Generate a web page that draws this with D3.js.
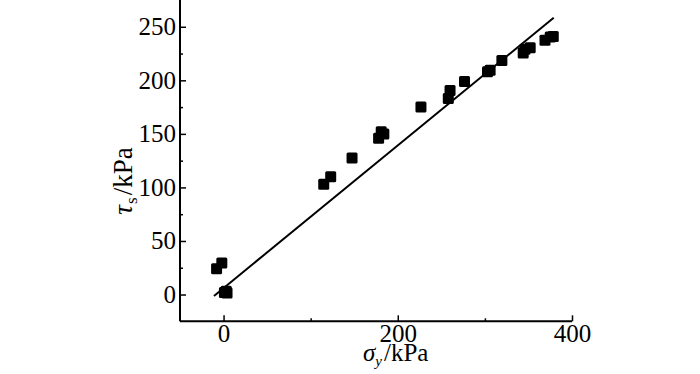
<!DOCTYPE html>
<html><head><meta charset="utf-8">
<script src="https://cdn.jsdelivr.net/npm/d3@7"></script>
<style>
html,body{margin:0;padding:0;background:#fff;}
svg{display:block;}
text{font-family:"Liberation Serif","Times New Roman",serif;fill:#000;}
</style></head>
<body><svg id="c" width="700" height="374"></svg>
<script>
const sigma = [-8, -2, 1, 3, 4, 115, 123, 147.5, 178, 181, 184, 226.6, 258, 260, 276.6, 303, 306, 319.5, 344, 346, 352, 369, 375, 378.5];
const tau   = [24, 29.5, 2, 3, 1.5, 103, 110, 127.5, 146, 152, 150, 175, 183, 190.5, 199, 208, 209.5, 218.5, 225.5, 229, 230.5, 237.5, 240.5, 241];
const fitSigma = [-11, 379];
const fitTau = [-1.3, 258.4];
const xTicks = [0, 200, 400];
const xMinor = [100, 300];
const yTicks = [0, 50, 100, 150, 200, 250];
const yMinor = [25, 75, 125, 175, 225];

const svg = d3.select("#c");
const L = 180, R = 572, T = 0, B = 321.3;
const x = d3.scaleLinear().domain([-50, 400]).range([L, R]);
const y = d3.scaleLinear().domain([-25, 275]).range([B, T]);

// fit line
svg.append("path")
  .datum(fitSigma.map((s, i) => [s, fitTau[i]]))
  .attr("d", d3.line().x(d => x(d[0])).y(d => y(d[1])))
  .attr("stroke", "#000").attr("stroke-width", 2).attr("fill", "none");

// points
const ms = 11;
svg.append("g").selectAll("rect").data(sigma.map((s, i) => [s, tau[i]])).join("rect")
  .attr("x", d => x(d[0]) - ms / 2).attr("y", d => y(d[1]) - ms / 2)
  .attr("width", ms).attr("height", ms).attr("rx", 1.5)
  .attr("fill", "#000");

// axes
const gx = svg.append("g").attr("transform", `translate(0,${B})`)
  .call(d3.axisBottom(x).tickValues(xTicks).tickSize(-6).tickSizeOuter(0).tickPadding(3).tickFormat(d3.format("d")));
const gxm = svg.append("g").attr("transform", `translate(0,${B})`)
  .call(d3.axisBottom(x).tickValues(xMinor).tickSize(-3).tickSizeOuter(0).tickFormat(""));
const gy = svg.append("g").attr("transform", `translate(${L},0)`)
  .call(d3.axisLeft(y).tickValues(yTicks).tickSize(-6).tickSizeOuter(0).tickPadding(4).tickFormat(d3.format("d")));
const gym = svg.append("g").attr("transform", `translate(${L},0)`)
  .call(d3.axisLeft(y).tickValues(yMinor).tickSize(-3).tickSizeOuter(0).tickFormat(""));
[gxm, gym].forEach(g => g.select(".domain").remove());
[gx, gy, gxm, gym].forEach(g => {
  g.selectAll(".domain").attr("stroke", "#000").attr("stroke-width", 2);
  g.selectAll(".tick line").attr("stroke", "#000").attr("stroke-width", 1.5);
  g.selectAll("text").attr("font-size", 25).style("font-family", '"Liberation Serif",serif').attr("fill", "#000");
});
gx.select(".domain").attr("d", `M${L},0H${R}`);
gy.select(".domain").attr("d", `M0,${B}V${T}`);

// axis titles
const xt = svg.append("text").attr("x", 363).attr("y", 361).attr("font-size", 25);
xt.append("tspan").attr("font-style", "italic").text("σ");
xt.append("tspan").attr("font-style", "italic").attr("font-size", 15).attr("dy", 5).text("y");
xt.append("tspan").attr("dy", -5).attr("dx", 2).text("/kPa");

const yt = svg.append("text").attr("transform", "translate(132,181) rotate(-90)")
  .attr("text-anchor", "middle").attr("font-size", 27);
yt.append("tspan").attr("font-style", "italic").text("τ");
yt.append("tspan").attr("font-size", 17).attr("dy", 5).attr("dx", 1).text("s");
yt.append("tspan").attr("dy", -5).attr("dx", 2).text("/kPa");
</script></body></html>
